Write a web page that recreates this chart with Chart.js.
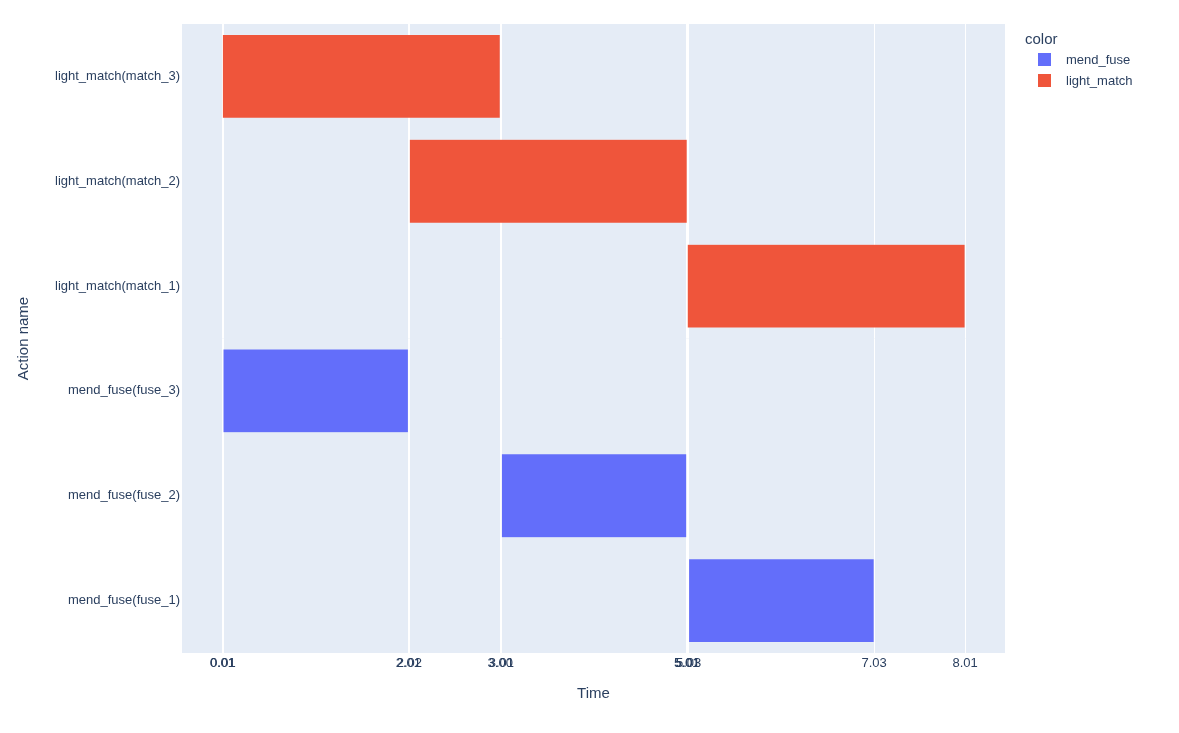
<!DOCTYPE html>
<html lang="en">
<head>
    <meta charset="UTF-8">
    <title>Action timeline</title>
    <style>
        body {
            margin: 0;
            background: #ffffff;
            font-family: Arial, "Liberation Sans", sans-serif;
        }
        #wrap {
            position: relative;
            width: 1179px;
            height: 733px;
        }
        .legend {
            position: absolute;
            left: 1025px;
            top: 28px;
            color: #2a3f5f;
        }
        .legend .title {
            font-size: 15px;
            line-height: 21px;
        }
        .legend .item {
            position: relative;
            height: 21px;
            font-size: 13px;
            line-height: 21px;
            padding-left: 41px;
        }
        .legend .swatch {
            position: absolute;
            left: 13px;
            top: 4px;
            width: 13px;
            height: 13px;
        }
    </style>
    <script src="https://cdn.jsdelivr.net/npm/chart.js"></script>
</head>
<body>

<div id="wrap">
    <canvas id="ganttChart" width="1179" height="733"></canvas>
    <div class="legend" id="legend"></div>
</div>

<script>
    // 每一行的动作，从上到下
    const actions = [
        'light_match(match_3)',
        'light_match(match_2)',
        'light_match(match_1)',
        'mend_fuse(fuse_3)',
        'mend_fuse(fuse_2)',
        'mend_fuse(fuse_1)'
    ];
    const actionTypes = ['light_match', 'light_match', 'light_match', 'mend_fuse', 'mend_fuse', 'mend_fuse'];
    const startTimes = [0.005, 2.02, 5.015, 0.012, 3.012, 5.03];
    const endTimes = [3.0, 5.015, 8.01, 2.01, 5.01, 7.03];

    // 横轴刻度 (plotly 把每个开始/结束时间都当作刻度)
    const xTickValues = [0.005, 0.012, 2.01, 2.02, 3.0, 3.012, 5.01, 5.015, 5.03, 7.03, 8.01];

    const seriesNames = ['mend_fuse', 'light_match'];
    const seriesColors = ['#636efa', '#ef553b'];

    const textColor = '#2a3f5f';
    const fontFamily = 'Arial, "Liberation Sans", sans-serif';

    // 按类型拆成两个数据集，其他行留空
    const datasets = seriesNames.map((name, i) => ({
        label: name,
        data: actions.map((a, j) => actionTypes[j] === name ? [startTimes[j], endTimes[j]] : null),
        backgroundColor: seriesColors[i],
        borderColor: 'rgba(255,255,255,0.35)',
        borderWidth: 0.5,
        borderSkipped: false,
        grouped: false,
        barPercentage: 0.8,
        categoryPercentage: 1.0
    }));

    // 画图区背景
    const plotBackground = {
        id: 'plotBackground',
        beforeDraw(chart) {
            const { ctx, chartArea } = chart;
            ctx.save();
            ctx.fillStyle = '#e5ecf6';
            ctx.fillRect(chartArea.left, chartArea.top, chartArea.right - chartArea.left, chartArea.bottom - chartArea.top);
            ctx.restore();
        }
    };

    new Chart(document.getElementById('ganttChart'), {
        type: 'bar',
        data: { labels: actions, datasets: datasets },
        options: {
            responsive: false,
            animation: false,
            indexAxis: 'y',
            layout: { padding: { top: 24, right: 174, left: 0, bottom: 0 } },
            plugins: {
                legend: { display: false },
                tooltip: { enabled: false }
            },
            scales: {
                x: {
                    type: 'linear',
                    min: -0.43,
                    max: 8.44,
                    afterBuildTicks: scale => {
                        scale.ticks = xTickValues.map(v => ({ value: v }));
                    },
                    afterFit: scale => { scale.height = 80; },
                    grid: { color: '#ffffff', lineWidth: 1, drawTicks: false },
                    border: { display: false },
                    ticks: {
                        autoSkip: false,
                        maxRotation: 0,
                        minRotation: 0,
                        padding: 3,
                        color: textColor,
                        font: { family: fontFamily, size: 13 },
                        callback: v => Number(v).toFixed(2)
                    },
                    title: {
                        display: true,
                        text: 'Time',
                        color: textColor,
                        font: { family: fontFamily, size: 15 },
                        padding: { top: 0, bottom: 30 }
                    }
                },
                y: {
                    type: 'category',
                    afterFit: scale => { scale.width = 182; },
                    grid: { display: false, drawTicks: false },
                    border: { display: false },
                    ticks: {
                        padding: 2,
                        color: textColor,
                        font: { family: fontFamily, size: 13 }
                    },
                    title: {
                        display: true,
                        text: 'Action name',
                        color: textColor,
                        font: { family: fontFamily, size: 15 },
                        padding: { top: 15, bottom: 0 }
                    }
                }
            }
        },
        plugins: [plotBackground]
    });

    // 图例 (右上角)
    const legend = document.getElementById('legend');
    let html = '<div class="title">color</div>';
    seriesNames.forEach((name, i) => {
        html += '<div class="item"><span class="swatch" style="background:' + seriesColors[i] + '"></span>' + name + '</div>';
    });
    legend.innerHTML = html;
</script>

</body>
</html>
